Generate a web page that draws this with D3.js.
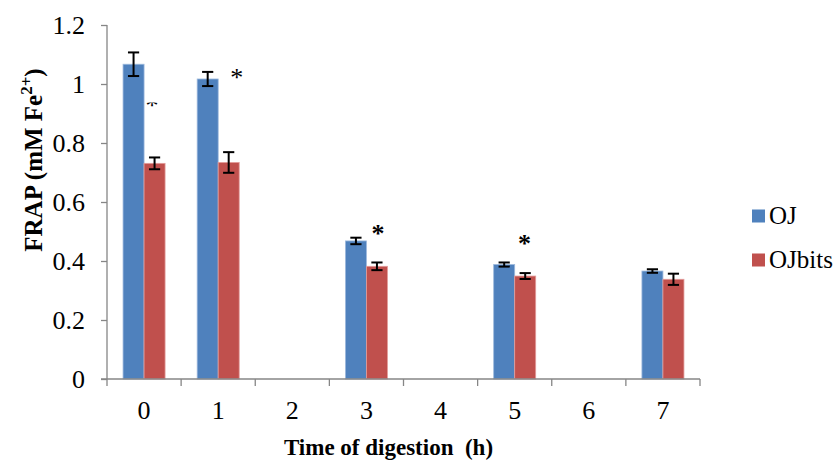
<!DOCTYPE html>
<html>
<head>
<meta charset="utf-8">
<script src="https://cdn.jsdelivr.net/npm/d3@7"></script>
<style>
  html, body { margin: 0; padding: 0; background: #fff; }
  svg { display: block; }
</style>
</head>
<body>
<svg id="chart" width="839" height="461"></svg>
<script>
// Digestion times (h) and FRAP means with standard deviations
const times = ["0", "1", "2", "3", "4", "5", "6", "7"];
const seriesNames = ["OJ", "OJbits"];
const ojValues = [1.067, 1.017, null, 0.468, null, 0.388, null, 0.366];
const ojErrors = [0.040, 0.024, null, 0.011, null, 0.007, null, 0.006];
const bitsValues = [0.731, 0.734, null, 0.382, null, 0.349, null, 0.338];
const bitsErrors = [0.020, 0.035, null, 0.013, null, 0.010, null, 0.019];
const yTicks = [0, 0.2, 0.4, 0.6, 0.8, 1, 1.2];
// Significance markers: time, height (FRAP units), horizontal offset from the group centre
const sigTimes = ["0", "1", "3", "5"];
const sigLevels = [0.939, 1.035, 0.507, 0.471];
const sigOffsets = [8, 18.5, 11.6, 9.7];

const colors = { OJ: "#4F81BD", OJbits: "#C0504D" };
const axisColor = "#868686";
const serif = "Liberation Serif";

const svg = d3.select("#chart");
const margin = { left: 107, right: 139, top: 25, bottom: 82 };
const W = 839, H = 461;

const x = d3.scaleBand().domain(times).range([margin.left, W - margin.right]).padding(0);
const xs = d3.scaleBand().domain(seriesNames).range([0, x.bandwidth()])
  .paddingInner(0).paddingOuter(0.764);
const y = d3.scaleLinear().domain([0, 1.2]).range([H - margin.bottom, margin.top]);

const rows = [];
times.forEach((t, i) => {
  rows.push({ t, s: "OJ", v: ojValues[i], e: ojErrors[i] });
  rows.push({ t, s: "OJbits", v: bitsValues[i], e: bitsErrors[i] });
});
const bars = rows.filter(d => d.v != null);

// Bars
svg.append("g").selectAll("rect").data(bars).join("rect")
  .attr("x", d => x(d.t) + xs(d.s))
  .attr("width", xs.bandwidth())
  .attr("y", d => y(d.v))
  .attr("height", d => y(0) - y(d.v))
  .attr("fill", d => colors[d.s])
  .attr("stroke", d => d.s === "OJ" ? "#9DB9DD" : "#E39C9A")
  .attr("stroke-width", 0.8);

// Error bars
const eg = svg.append("g").attr("stroke", "#000").attr("stroke-width", 2);
bars.forEach(d => {
  const cx = x(d.t) + xs(d.s) + xs.bandwidth() / 2;
  const y1 = y(d.v + d.e), y2 = y(d.v - d.e);
  eg.append("line").attr("x1", cx).attr("x2", cx).attr("y1", y1).attr("y2", y2);
  eg.append("line").attr("x1", cx - 5.6).attr("x2", cx + 5.6).attr("y1", y1).attr("y2", y1);
  eg.append("line").attr("x1", cx - 5.6).attr("x2", cx + 5.6).attr("y1", y2).attr("y2", y2);
});

// Y axis
const yAxis = svg.append("g").attr("transform", `translate(${margin.left},0)`)
  .call(d3.axisLeft(y).tickValues(yTicks).tickSize(6).tickPadding(16)
    .tickFormat(d => d3.format("")(+d.toFixed(1))));
yAxis.attr("font-family", serif).attr("font-size", 26);
yAxis.select(".domain").attr("stroke", axisColor).attr("stroke-width", 1.3)
  .attr("d", `M0,${y(1.2)}V${y(0)}`);
yAxis.selectAll(".tick line").attr("stroke", axisColor).attr("stroke-width", 1.3);
yAxis.selectAll(".tick text").attr("fill", "#000");

// X axis
const xAxis = svg.append("g").attr("transform", `translate(0,${y(0)})`)
  .call(d3.axisBottom(x).tickSize(0).tickPadding(22));
xAxis.attr("font-family", serif).attr("font-size", 26);
xAxis.select(".domain").attr("stroke", axisColor).attr("stroke-width", 1.3)
  .attr("d", `M${margin.left - 6},0H${W - margin.right}`);
xAxis.selectAll(".tick text").attr("fill", "#000");
// Category boundary ticks
const bounds = times.map(t => x(t)).concat([x(times[times.length - 1]) + x.step()]);
xAxis.append("g").selectAll("line").data(bounds).join("line")
  .attr("x1", d => d).attr("x2", d => d).attr("y1", 0).attr("y2", 7)
  .attr("stroke", axisColor).attr("stroke-width", 1.3);

// Significance asterisks
const defs = svg.append("defs");
sigTimes.forEach((t, i) => {
  const cx = x(t) + x.bandwidth() / 2 + sigOffsets[i];
  const cy = y(sigLevels[i]);
  const bold = i >= 2;
  const size = 26;
  const txt = svg.append("text")
    .attr("x", cx).attr("y", cy + size * 0.47)
    .attr("text-anchor", "middle")
    .attr("font-family", serif)
    .attr("font-size", size)
    .attr("font-weight", bold ? "bold" : "normal")
    .text("*");
  if (i === 0) {
    // only the lower strokes of this marker are visible
    defs.append("clipPath").attr("id", "sigClip")
      .append("rect").attr("x", cx - 10).attr("y", cy + 0.5).attr("width", 20).attr("height", 20);
    txt.attr("clip-path", "url(#sigClip)");
  }
});

// Axis titles
svg.append("text")
  .attr("x", (margin.left + W - margin.right) / 2 - 15).attr("y", 455)
  .attr("text-anchor", "middle")
  .attr("font-family", serif).attr("font-size", 23).attr("font-weight", "bold")
  .attr("xml:space", "preserve")
  .text("Time of digestion  (h)");

const yt = svg.append("text")
  .attr("transform", "translate(42,160) rotate(-90)")
  .attr("text-anchor", "middle")
  .attr("font-family", serif).attr("font-size", 25).attr("font-weight", "bold");
yt.append("tspan").text("FRAP (mM Fe");
yt.append("tspan").attr("font-size", 17).attr("dy", -10).text("2+");
yt.append("tspan").attr("dy", 10).text(")");

// Legend
const lg = svg.append("g").attr("transform", "translate(752,209.5)");
seriesNames.forEach((s, i) => {
  const g = lg.append("g").attr("transform", `translate(0,${i * 44})`);
  g.append("rect").attr("width", 13).attr("height", 13).attr("fill", colors[s]);
  g.append("text").attr("x", 17).attr("y", 14)
    .attr("font-family", serif).attr("font-size", 25).text(s);
});
</script>
</body>
</html>
